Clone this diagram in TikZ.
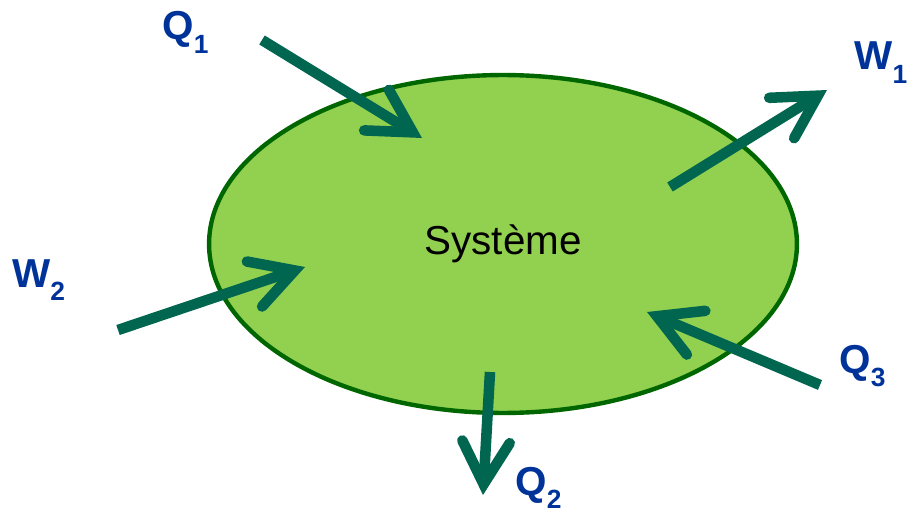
\documentclass[tikz,border=0pt]{standalone}
\usepackage{fontspec}
\setmainfont{Liberation Sans}
\usetikzlibrary{arrows.meta, shapes.geometric}
\definecolor{sysfill}{HTML}{92D050}
\definecolor{sysline}{HTML}{006600}
\definecolor{flowgreen}{HTML}{00664F}
\definecolor{lblblue}{HTML}{003399}
\newcommand{\flowlbl}[2]{\textbf{#1\raisebox{-7.8pt}{\fontsize{15}{15}\selectfont #2}}}

\begin{document}
\begin{tikzpicture}[x=0.02cm, y=-0.02cm,
    flowarrow/.style={draw=flowgreen, line width=6pt,
      -{Straight Barb[length=0.85cm, width=0.95cm, line cap=round, line join=miter]}},
    lbl/.style={text=lblblue, inner sep=0pt, anchor=base west, font=\fontsize{23}{27}\selectfont}]
    \useasboundingbox (0,0) rectangle (909,513);

    % the system
    \node[ellipse, draw=sysline, fill=sysfill, line width=2.5pt, inner sep=0pt,
      minimum width=11.76cm, minimum height=6.76cm, font=\fontsize{23}{27}\selectfont]
      (sys) at (503,244) {Système};

    % ends of the exchanges
    \coordinate (q1a) at (262,40);  \coordinate (q1b) at (422,138);
    \coordinate (w1a) at (670,187); \coordinate (w1b) at (827,90);
    \coordinate (w2a) at (118,330); \coordinate (w2b) at (305,267);
    \coordinate (q2a) at (490,372); \coordinate (q2b) at (483,495);
    \coordinate (q3a) at (820,385); \coordinate (q3b) at (647,312);

    \draw[flowarrow] (q1a) -- (q1b);
    \draw[flowarrow] (w1a) -- (w1b);
    \draw[flowarrow] (w2a) -- (w2b);
    \draw[flowarrow] (q2a) -- (q2b);
    \draw[flowarrow] (q3a) -- (q3b);

    % labels
    \node[lbl] (lq1) at (162,40)  {\flowlbl{Q}{1}};
    \node[lbl] (lw1) at (854,70)  {\flowlbl{W}{1}};
    \node[lbl] (lw2) at (12,287)  {\flowlbl{W}{2}};
    \node[lbl] (lq2) at (515,495) {\flowlbl{Q}{2}};
    \node[lbl] (lq3) at (839,373) {\flowlbl{Q}{3}};
\end{tikzpicture}
\end{document}
